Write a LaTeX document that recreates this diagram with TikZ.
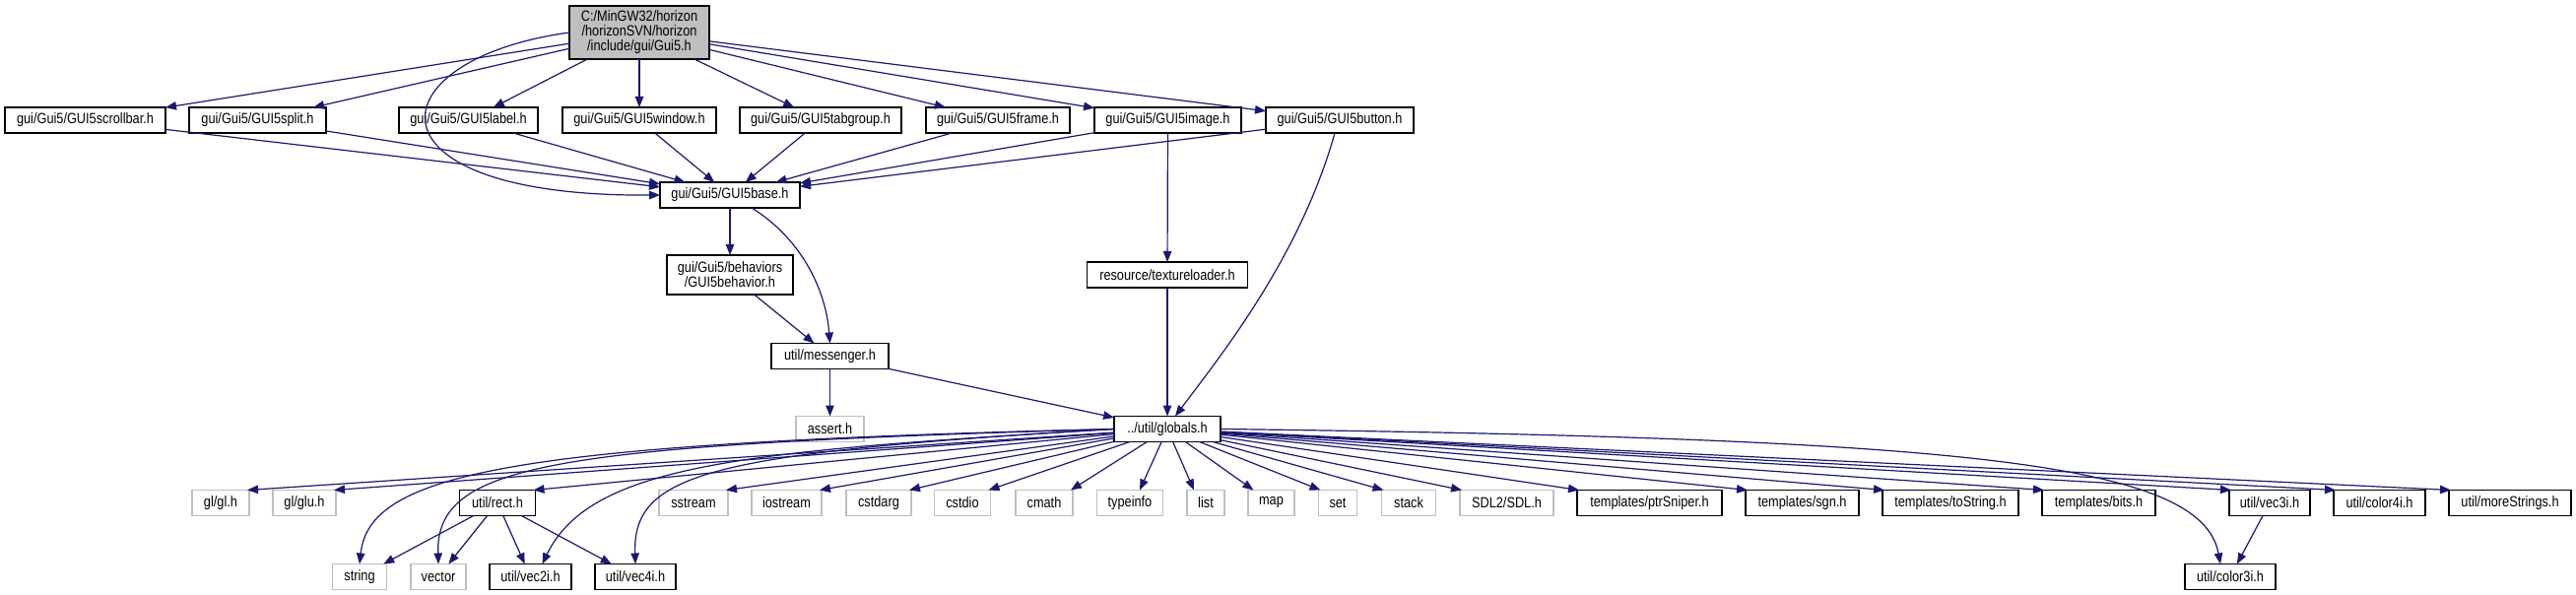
\documentclass[tikz,border=0pt]{standalone}
\usepackage{fontspec}
\setmainfont{Liberation Sans}[FakeStretch=0.85]
\usetikzlibrary{arrows.meta}
\definecolor{edgec}{HTML}{191970}
\definecolor{grayb}{HTML}{BFBFBF}
\tikzset{
  box/.style={draw=black, line width=1.3bp, fill=white, inner sep=0pt, outer sep=0pt,
    font=\fontsize{15bp}{15bp}\selectfont, align=center, minimum height=26bp},
  sysbox/.style={box, draw=grayb},
  rootbox/.style={box, fill=grayb},
  dep/.style={draw=edgec, line width=1.2bp, -{Triangle[length=11bp,width=8.5bp]}},
}
\begin{document}
\begin{tikzpicture}[x=1bp,y=-1bp]
\useasboundingbox (0,0) rectangle (2615,604);
% nodes
\node[rootbox, minimum width=142bp, minimum height=54bp] (root) at (649,33) {C:/MinGW32/horizon\\/horizonSVN/horizon\\/include/gui/Gui5.h};
\node[box, minimum width=163bp] (scrollbar) at (86.5,122) {gui/Gui5/GUI5scrollbar.h};
\node[box, minimum width=139bp] (split) at (261.5,122) {gui/Gui5/GUI5split.h};
\node[box, minimum width=141bp] (label) at (475.5,122) {gui/Gui5/GUI5label.h};
\node[box, minimum width=156bp] (window) at (649,122) {gui/Gui5/GUI5window.h};
\node[box, minimum width=164bp] (tabgroup) at (833,122) {gui/Gui5/GUI5tabgroup.h};
\node[box, minimum width=146bp] (frame) at (1013,122) {gui/Gui5/GUI5frame.h};
\node[box, minimum width=149bp] (image) at (1185.5,122) {gui/Gui5/GUI5image.h};
\node[box, minimum width=150bp] (button) at (1360,122) {gui/Gui5/GUI5button.h};
\node[box, minimum width=142bp] (base) at (741,198) {gui/Gui5/GUI5base.h};
\node[box, minimum width=128bp, minimum height=40bp] (behavior) at (741,279) {gui/Gui5/behaviors\\/GUI5behavior.h};
\node[box, minimum width=119bp] (messenger) at (842.5,361.5) {util/messenger.h};
\node[box, minimum width=163bp] (texture) at (1185,279) {resource/textureloader.h};
\node[sysbox, minimum width=69bp] (assert) at (842.5,435.5) {assert.h};
\node[box, minimum width=108bp] (globals) at (1185,435.5) {../util/globals.h};
% row 3
\node[sysbox, minimum width=58bp] (gl) at (224,510.5) {gl/gl.h};
\node[sysbox, minimum width=64bp] (glu) at (309,510.5) {gl/glu.h};
\node[box, minimum width=77bp] (rect) at (505,510.5) {util/rect.h};
\node[sysbox, minimum width=70bp] (sstream) at (704,510.5) {sstream};
\node[sysbox, minimum width=71bp] (iostream) at (798.5,510.5) {iostream};
\node[sysbox, minimum width=66bp] (cstdarg) at (892,510.5) {cstdarg};
\node[sysbox, minimum width=57bp] (cstdio) at (977,510.5) {cstdio};
\node[sysbox, minimum width=58bp] (cmath) at (1060,510.5) {cmath};
\node[sysbox, minimum width=67bp] (typeinfo) at (1147,510.5) {typeinfo};
\node[sysbox, minimum width=38bp] (list) at (1224,510.5) {list};
\node[sysbox, minimum width=47bp] (map) at (1290.5,510.5) {map};
\node[sysbox, minimum width=39bp] (set) at (1358,510.5) {set};
\node[sysbox, minimum width=55bp] (stack) at (1430,510.5) {stack};
\node[sysbox, minimum width=95bp] (sdl) at (1529.5,510.5) {SDL2/SDL.h};
\node[box, minimum width=147bp] (ptr) at (1674.5,510.5) {templates/ptrSniper.h};
\node[box, minimum width=115bp] (sgn) at (1829.5,510.5) {templates/sgn.h};
\node[box, minimum width=138bp] (tostr) at (1980,510.5) {templates/toString.h};
\node[box, minimum width=115bp] (bits) at (2130.5,510.5) {templates/bits.h};
\node[box, minimum width=82bp] (vec3i) at (2304,510.5) {util/vec3i.h};
\node[box, minimum width=93bp] (color4i) at (2415.5,510.5) {util/color4i.h};
\node[box, minimum width=124bp] (more) at (2548,510.5) {util/moreStrings.h};
% row 4
\node[sysbox, minimum width=55bp] (string) at (365,585.5) {string};
\node[sysbox, minimum width=56bp] (vector) at (445,585.5) {vector};
\node[box, minimum width=83bp] (vec2i) at (538.5,585.5) {util/vec2i.h};
\node[box, minimum width=82bp] (vec4i) at (645,585.5) {util/vec4i.h};
\node[box, minimum width=92bp] (color3i) at (2264,585.5) {util/color3i.h};
% edges from root
\foreach \t in {scrollbar,split,label,window,tabgroup,frame,image,button}
  \draw[dep] (root) -- (\t);
\draw[dep] (root.west) .. controls (380,60) and (360,200) .. (base.west);
% edges to base
\foreach \s in {scrollbar,split,label,window,tabgroup,frame,image,button}
  \draw[dep] (\s) -- (base);
\draw[dep] (base) -- (behavior);
\draw[dep] ([xshift=-49bp]base.south east) .. controls (810,240) and (838,290) .. (messenger.north);
\draw[dep] (behavior) -- (messenger);
\draw[dep] (messenger) -- (assert);
\draw[dep] (messenger) -- (globals);
\draw[dep] (image) -- (texture);
\draw[dep] (texture) -- (globals);
\draw[dep] ([xshift=-5bp]button.south) .. controls (1320,260) and (1240,360) .. ([xshift=-46bp]globals.north east);
% globals fan-out
\foreach \t in {gl,glu,rect,sstream,iostream,cstdarg,cstdio,cmath}
  \draw[dep] (globals) -- ([xshift=-2bp]\t.north east);
\draw[dep] (globals) -- ([xshift=10bp]typeinfo.north);
\draw[dep] (globals) -- ([xshift=-12bp]list.north);
\draw[dep] (globals) -- ([xshift=-18bp]map.north);
\foreach \t in {set,stack,sdl,ptr,sgn,tostr,bits,vec3i,color4i,more}
  \draw[dep] (globals) -- ([xshift=2bp]\t.north west);
\draw[dep] (globals.west) .. controls (520,450) and (375,480) .. (string.north);
\draw[dep] (globals.west) .. controls (560,452) and (442,470) .. (vector.north);
\draw[dep] (globals.west) .. controls (760,458) and (600,470) .. ([xshift=12bp]vec2i.north);
\draw[dep] (globals.west) .. controls (720,460) and (642,480) .. (vec4i.north);
\draw[dep] (globals.east) .. controls (2000,445) and (2235,470) .. ([xshift=-10bp]color3i.north);
% rect and vec3i
\foreach \t in {string,vector,vec2i,vec4i}
  \draw[dep] (rect) -- (\t);
\draw[dep] (vec3i) -- (color3i);
\end{tikzpicture}
\end{document}
